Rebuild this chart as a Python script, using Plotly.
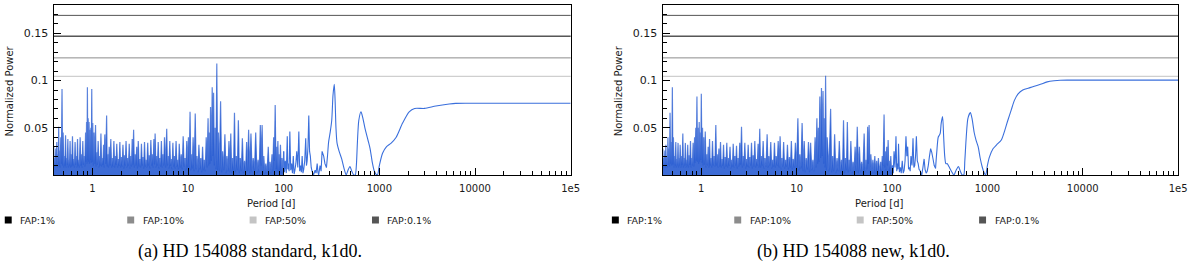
import plotly.graph_objects as go

W, H = 1200, 264

# ---------------- data ----------------
fap_labels = ["FAP:1%", "FAP:10%", "FAP:50%", "FAP:0.1%"]
fap_colors = ["#000000", "#8c8c8c", "#c4c4c4", "#555555"]
fap_levels_std = [0.147, 0.124, 0.1045, 0.169]
fap_levels_new = [0.147, 0.124, 0.1045, 0.169]

x_tick_vals = [1, 10, 100, 1000, 10000, 100000]
x_tick_text = ["1", "10", "100", "1000", "10000", "1e5"]
y_tick_vals = [0.05, 0.1, 0.15]
y_tick_text = ["0.05", "0.1", "0.15"]
captions = ["(a) HD 154088 standard, k1d0.", "(b) HD 154088 new, k1d0."]
x_title = "Period [d]"
y_title = "Normalized Power"

# standard reduction, dense short-period forest (period [d], normalized power)
std_dense = [
    (0.390, 0.020), (0.395, 0.030), (0.400, 0.008), (0.405, 0.018), (0.410, 0.009),
    (0.415, 0.028), (0.420, 0.010), (0.425, 0.035), (0.430, 0.008), (0.435, 0.022),
    (0.440, 0.012), (0.445, 0.051), (0.450, 0.009), (0.455, 0.026), (0.461, 0.008),
    (0.468, 0.040), (0.475, 0.012), (0.482, 0.091), (0.488, 0.010), (0.495, 0.045),
    (0.502, 0.008), (0.510, 0.020), (0.517, 0.010), (0.525, 0.042), (0.532, 0.008),
    (0.540, 0.018), (0.547, 0.011), (0.555, 0.038), (0.562, 0.008), (0.570, 0.016),
    (0.577, 0.010), (0.585, 0.036), (0.592, 0.008), (0.600, 0.022), (0.610, 0.009),
    (0.620, 0.041), (0.630, 0.010), (0.640, 0.017), (0.650, 0.008), (0.660, 0.035),
    (0.670, 0.011), (0.680, 0.020), (0.690, 0.008), (0.700, 0.038), (0.710, 0.010),
    (0.720, 0.016), (0.732, 0.008), (0.745, 0.040), (0.757, 0.010), (0.770, 0.022),
    (0.782, 0.008), (0.795, 0.036), (0.807, 0.011), (0.820, 0.020), (0.835, 0.009),
    (0.850, 0.045), (0.860, 0.014), (0.870, 0.056), (0.879, 0.012), (0.888, 0.093),
    (0.896, 0.016), (0.905, 0.060), (0.914, 0.014), (0.924, 0.056), (0.934, 0.012),
    (0.945, 0.048), (0.955, 0.016), (0.965, 0.050), (0.975, 0.013), (0.986, 0.091),
    (0.998, 0.014), (1.010, 0.055), (1.025, 0.010), (1.040, 0.045), (1.060, 0.012),
    (1.080, 0.053), (1.095, 0.009), (1.110, 0.024), (1.130, 0.011), (1.150, 0.036),
    (1.170, 0.008), (1.190, 0.020), (1.210, 0.010), (1.230, 0.044), (1.250, 0.009),
    (1.270, 0.018), (1.290, 0.011), (1.310, 0.032), (1.330, 0.008), (1.350, 0.043),
    (1.380, 0.012), (1.410, 0.063), (1.430, 0.009), (1.450, 0.022), (1.475, 0.008),
    (1.500, 0.030), (1.530, 0.010), (1.560, 0.038), (1.590, 0.008), (1.620, 0.018),
    (1.650, 0.009), (1.680, 0.036), (1.710, 0.008), (1.740, 0.020), (1.770, 0.011),
    (1.800, 0.033), (1.835, 0.008), (1.870, 0.017), (1.905, 0.010), (1.940, 0.035),
    (1.975, 0.008), (2.010, 0.019), (2.050, 0.009), (2.090, 0.032), (2.130, 0.007),
    (2.170, 0.021), (2.210, 0.010), (2.250, 0.036), (2.295, 0.008), (2.340, 0.018),
    (2.385, 0.010), (2.430, 0.033), (2.475, 0.007), (2.520, 0.020), (2.565, 0.009),
    (2.610, 0.038), (2.655, 0.011), (2.700, 0.048), (2.750, 0.008), (2.800, 0.022),
    (2.855, 0.010), (2.910, 0.030), (2.965, 0.007), (3.020, 0.036), (3.080, 0.009),
    (3.140, 0.017), (3.200, 0.008), (3.260, 0.033), (3.320, 0.010), (3.380, 0.019),
    (3.445, 0.007), (3.510, 0.035), (3.580, 0.009), (3.650, 0.016), (3.720, 0.008),
    (3.790, 0.034), (3.865, 0.010), (3.940, 0.021), (4.015, 0.007), (4.090, 0.037),
    (4.170, 0.010), (4.250, 0.022), (4.325, 0.008), (4.400, 0.038), (4.465, 0.011),
    (4.530, 0.044), (4.615, 0.008), (4.700, 0.020), (4.790, 0.010), (4.880, 0.035),
    (4.975, 0.007), (5.070, 0.018), (5.170, 0.009), (5.270, 0.036), (5.370, 0.008),
    (5.470, 0.022), (5.575, 0.010), (5.680, 0.040), (5.830, 0.008), (5.990, 0.049),
    (6.090, 0.010), (6.200, 0.020), (6.320, 0.007), (6.450, 0.036), (6.570, 0.010),
    (6.700, 0.017), (6.820, 0.006), (6.950, 0.034), (7.070, 0.009), (7.200, 0.020),
    (7.350, 0.007), (7.500, 0.036), (7.650, 0.009), (7.800, 0.016), (7.950, 0.006),
    (8.100, 0.033), (8.300, 0.008), (8.500, 0.022), (8.700, 0.006), (8.900, 0.041),
    (9.100, 0.009), (9.300, 0.018), (9.500, 0.005), (9.700, 0.036), (9.900, 0.008),
    (10.10, 0.040), (10.30, 0.006), (10.50, 0.067), (10.70, 0.005), (10.90, 0.022),
    (11.10, 0.007), (11.30, 0.040), (11.60, 0.004), (11.90, 0.065), (12.15, 0.006),
    (12.40, 0.020), (12.70, 0.003), (13.00, 0.032), (13.30, 0.006), (13.60, 0.018),
    (13.90, 0.003), (14.20, 0.030), (14.50, 0.005), (14.80, 0.016), (15.15, 0.004),
    (15.50, 0.040), (15.85, 0.008), (16.20, 0.060), (16.45, 0.010), (16.70, 0.045),
    (16.95, 0.012), (17.20, 0.072), (17.55, 0.015), (17.90, 0.093), (18.20, 0.020),
    (18.50, 0.087), (18.85, 0.010), (19.20, 0.050), (19.60, 0.006), (20.00, 0.118),
    (20.40, 0.005), (20.80, 0.045), (21.35, 0.004), (21.90, 0.078), (22.45, 0.003),
    (23.00, 0.025), (23.65, 0.005), (24.30, 0.043), (24.90, 0.002), (25.50, 0.020),
    (26.15, 0.004), (26.80, 0.036), (27.40, 0.003), (28.00, 0.044), (28.60, 0.002),
    (29.20, 0.018), (29.90, 0.004), (30.60, 0.066), (31.30, 0.003), (32.00, 0.020),
    (32.80, 0.005), (33.60, 0.058), (34.40, 0.002), (35.20, 0.018), (36.10, 0.004),
    (37.00, 0.039), (38.00, 0.002), (39.00, 0.015), (40.00, 0.003), (41.00, 0.035),
    (42.00, 0.004), (43.00, 0.048), (44.20, 0.002), (45.50, 0.044), (46.70, 0.003),
    (48.00, 0.018), (49.50, 0.004), (51.00, 0.045), (52.50, 0.002), (54.00, 0.016),
    (55.50, 0.003), (57.00, 0.053), (58.20, 0.010), (59.50, 0.053), (60.70, 0.002),
    (62.00, 0.020), (63.50, 0.001), (65.00, 0.012), (67.00, 0.002), (69.00, 0.030),
    (70.50, 0.001), (72.00, 0.014), (73.70, 0.002), (75.50, 0.022), (77.00, 0.004),
    (78.50, 0.040), (80.00, 0.015), (81.50, 0.074), (83.00, 0.006), (84.50, 0.030),
    (85.70, 0.004), (87.00, 0.036), (88.50, 0.003), (90.00, 0.022), (91.20, 0.005),
    (92.50, 0.032), (94.20, 0.002), (96.00, 0.018), (98.00, 0.001), (100.0, 0.025),
]

# standard reduction, sparse peaks between 100 and 280 d
std_mid = [
    (100.0, 0.025), (102.0, 0.003), (104.0, 0.015), (106.5, 0.002), (109.0, 0.041),
    (110.5, 0.006), (112.0, 0.012), (114.0, 0.004), (116.0, 0.046), (118.5, 0.005),
    (121.0, 0.012), (123.5, 0.002), (126.0, 0.020), (128.5, 0.001), (131.0, 0.005),
    (134.0, 0.012), (137.0, 0.025), (140.5, 0.008), (144.0, 0.046), (147.0, 0.004),
    (150.0, 0.010), (153.0, 0.003), (156.0, 0.020), (159.0, 0.002), (162.0, 0.006),
    (166.0, 0.015), (170.0, 0.039), (173.0, 0.010), (176.0, 0.015), (179.5, 0.030),
    (183.0, 0.063), (186.5, 0.025), (190.0, 0.020), (194.0, 0.008), (198.0, 0.004),
    (205.0, 0.000), (213.0, 0.005), (218.0, 0.002), (224.0, 0.012), (228.0, 0.003),
    (232.0, 0.000), (240.0, 0.010), (246.0, 0.004), (252.0, 0.025), (262.0, 0.020),
    (270.0, 0.012), (280.0, 0.008),
]

# standard reduction, long periods
std_long = [
    (280.0, 0.008), (287.0, 0.020), (295.0, 0.035), (307.0, 0.046), (318.0, 0.058),
    (328.0, 0.085), (338.0, 0.096), (345.0, 0.078), (352.0, 0.050), (361.0, 0.034),
    (380.0, 0.025), (404.0, 0.017), (430.0, 0.006), (450.0, 0.000), (470.0, 0.005),
    (493.0, 0.009), (515.0, 0.004), (540.0, 0.000), (560.0, 0.000), (575.0, 0.010),
    (590.0, 0.035), (610.0, 0.058), (643.0, 0.067), (670.0, 0.061), (706.0, 0.050),
    (765.0, 0.036), (800.0, 0.028), (845.0, 0.013), (880.0, 0.005), (920.0, 0.001),
    (955.0, 0.000), (1000.0, 0.010), (1080.0, 0.023), (1190.0, 0.030), (1320.0, 0.0335),
    (1500.0, 0.040), (1750.0, 0.055), (2050.0, 0.0669), (2340.0, 0.0705), (2960.0, 0.0705),
    (3900.0, 0.0730), (5370.0, 0.0751), (6280.0, 0.0758), (10000.0, 0.0759), (30000.0, 0.0759),
    (100000.0, 0.0759),
]

# new reduction, dense short-period forest
new_dense = [
    (0.390, 0.018), (0.395, 0.028), (0.400, 0.008), (0.405, 0.018), (0.410, 0.010),
    (0.415, 0.026), (0.420, 0.008), (0.425, 0.032), (0.430, 0.010), (0.435, 0.020),
    (0.441, 0.008), (0.447, 0.040), (0.452, 0.011), (0.458, 0.028), (0.464, 0.009),
    (0.470, 0.066), (0.476, 0.012), (0.483, 0.035), (0.490, 0.010), (0.497, 0.093),
    (0.503, 0.011), (0.510, 0.040), (0.517, 0.008), (0.525, 0.020), (0.532, 0.010),
    (0.540, 0.035), (0.547, 0.008), (0.555, 0.017), (0.562, 0.010), (0.570, 0.034),
    (0.577, 0.008), (0.585, 0.018), (0.592, 0.010), (0.600, 0.032), (0.610, 0.008),
    (0.620, 0.020), (0.630, 0.011), (0.640, 0.044), (0.650, 0.008), (0.660, 0.018),
    (0.670, 0.010), (0.680, 0.034), (0.690, 0.008), (0.700, 0.016), (0.710, 0.010),
    (0.720, 0.032), (0.732, 0.008), (0.745, 0.021), (0.757, 0.011), (0.770, 0.036),
    (0.782, 0.008), (0.795, 0.018), (0.807, 0.010), (0.820, 0.034), (0.835, 0.009),
    (0.850, 0.040), (0.862, 0.013), (0.875, 0.050), (0.887, 0.015), (0.900, 0.083),
    (0.912, 0.014), (0.925, 0.050), (0.937, 0.012), (0.950, 0.056), (0.962, 0.014),
    (0.975, 0.045), (0.987, 0.016), (1.000, 0.086), (1.015, 0.013), (1.030, 0.050),
    (1.045, 0.010), (1.060, 0.040), (1.080, 0.011), (1.100, 0.046), (1.120, 0.008),
    (1.140, 0.022), (1.160, 0.010), (1.180, 0.030), (1.200, 0.008), (1.220, 0.038),
    (1.240, 0.010), (1.260, 0.018), (1.285, 0.008), (1.310, 0.036), (1.335, 0.010),
    (1.360, 0.020), (1.390, 0.009), (1.420, 0.053), (1.445, 0.010), (1.470, 0.022),
    (1.500, 0.008), (1.530, 0.028), (1.560, 0.009), (1.590, 0.035), (1.620, 0.008),
    (1.650, 0.017), (1.680, 0.010), (1.710, 0.032), (1.745, 0.007), (1.780, 0.019),
    (1.815, 0.009), (1.850, 0.034), (1.885, 0.008), (1.920, 0.018), (1.960, 0.010),
    (2.000, 0.030), (2.040, 0.007), (2.080, 0.016), (2.120, 0.009), (2.160, 0.033),
    (2.205, 0.008), (2.250, 0.020), (2.295, 0.010), (2.340, 0.031), (2.385, 0.007),
    (2.430, 0.018), (2.480, 0.009), (2.530, 0.034), (2.585, 0.011), (2.640, 0.051),
    (2.695, 0.008), (2.750, 0.020), (2.805, 0.010), (2.860, 0.034), (2.920, 0.007),
    (2.980, 0.017), (3.040, 0.009), (3.100, 0.032), (3.165, 0.008), (3.230, 0.019),
    (3.295, 0.010), (3.360, 0.034), (3.430, 0.007), (3.500, 0.021), (3.570, 0.009),
    (3.640, 0.036), (3.715, 0.008), (3.790, 0.017), (3.865, 0.010), (3.940, 0.033),
    (4.020, 0.008), (4.100, 0.049), (4.185, 0.008), (4.270, 0.020), (4.360, 0.010),
    (4.450, 0.036), (4.550, 0.007), (4.650, 0.018), (4.775, 0.009), (4.900, 0.043),
    (5.000, 0.008), (5.100, 0.020), (5.225, 0.010), (5.350, 0.035), (5.475, 0.007),
    (5.600, 0.016), (5.725, 0.009), (5.850, 0.034), (5.975, 0.008), (6.100, 0.020),
    (6.250, 0.010), (6.400, 0.036), (6.550, 0.008), (6.700, 0.041), (6.850, 0.006),
    (7.000, 0.018), (7.150, 0.009), (7.300, 0.035), (7.475, 0.007), (7.650, 0.016),
    (7.825, 0.009), (8.000, 0.032), (8.200, 0.006), (8.400, 0.019), (8.600, 0.008),
    (8.800, 0.036), (9.000, 0.006), (9.200, 0.017), (9.450, 0.008), (9.700, 0.034),
    (10.00, 0.006), (10.30, 0.060), (10.55, 0.005), (10.80, 0.022), (11.10, 0.007),
    (11.40, 0.055), (11.70, 0.004), (12.00, 0.036), (12.30, 0.003), (12.60, 0.018),
    (12.95, 0.006), (13.30, 0.035), (13.65, 0.003), (14.00, 0.034), (14.40, 0.005),
    (14.80, 0.016), (15.20, 0.004), (15.60, 0.040), (15.95, 0.008), (16.30, 0.060),
    (16.60, 0.012), (16.90, 0.050), (17.20, 0.014), (17.50, 0.083), (17.85, 0.018),
    (18.20, 0.092), (18.55, 0.020), (18.90, 0.089), (19.20, 0.012), (19.50, 0.060),
    (19.80, 0.008), (20.10, 0.105), (20.50, 0.005), (20.90, 0.040), (21.80, 0.004),
    (22.70, 0.070), (23.25, 0.003), (23.80, 0.020), (24.40, 0.004), (25.00, 0.043),
    (25.75, 0.002), (26.50, 0.018), (27.25, 0.004), (28.00, 0.036), (28.75, 0.003),
    (29.50, 0.016), (30.25, 0.004), (31.00, 0.058), (31.75, 0.002), (32.50, 0.018),
    (33.25, 0.005), (34.00, 0.056), (34.75, 0.003), (35.50, 0.016), (36.25, 0.004),
    (37.00, 0.036), (38.00, 0.002), (39.00, 0.014), (40.00, 0.003), (41.00, 0.030),
    (42.10, 0.004), (43.20, 0.051), (44.30, 0.002), (45.50, 0.030), (46.70, 0.003),
    (48.00, 0.014), (49.50, 0.002), (51.00, 0.044), (52.20, 0.003), (53.50, 0.016),
    (54.50, 0.006), (55.50, 0.051), (56.50, 0.012), (57.50, 0.053), (58.70, 0.002),
    (60.00, 0.022), (61.50, 0.001), (63.00, 0.016), (64.50, 0.002), (66.00, 0.020),
    (67.50, 0.001), (69.00, 0.015), (70.50, 0.002), (72.00, 0.018), (74.00, 0.001),
    (76.00, 0.014), (77.50, 0.003), (79.00, 0.020), (80.70, 0.010), (82.50, 0.064),
    (83.70, 0.008), (85.00, 0.025), (86.50, 0.005), (88.00, 0.030), (89.50, 0.010),
    (91.00, 0.037), (92.50, 0.004), (94.00, 0.015), (95.50, 0.002), (97.00, 0.020),
    (99.00, 0.001), (101.0, 0.010),
]

# new reduction, sparse peaks between 100 and 286 d
new_mid = [
    (101.0, 0.010), (103.0, 0.002), (105.0, 0.025), (107.5, 0.008), (110.0, 0.041),
    (112.0, 0.004), (114.0, 0.012), (115.5, 0.006), (117.0, 0.033), (119.5, 0.003),
    (122.0, 0.008), (125.0, 0.002), (128.0, 0.015), (131.0, 0.002), (134.0, 0.005),
    (137.0, 0.015), (140.0, 0.041), (143.0, 0.020), (146.0, 0.030), (149.0, 0.006),
    (152.0, 0.008), (155.0, 0.004), (158.0, 0.020), (162.0, 0.010), (166.0, 0.039),
    (169.5, 0.008), (173.0, 0.010), (176.5, 0.020), (180.0, 0.041), (184.0, 0.015),
    (188.0, 0.012), (192.0, 0.006), (196.0, 0.005), (205.0, 0.000), (211.0, 0.008),
    (217.0, 0.017), (222.0, 0.006), (228.0, 0.002), (234.0, 0.004), (240.0, 0.010),
    (247.0, 0.020), (254.0, 0.028), (261.0, 0.024), (268.0, 0.018), (277.0, 0.010),
    (286.0, 0.007),
]

# new reduction, long periods
new_long = [
    (286.0, 0.007), (295.0, 0.025), (305.0, 0.040), (313.0, 0.042), (320.0, 0.044),
    (328.0, 0.055), (339.0, 0.062), (348.0, 0.040), (357.0, 0.020), (367.0, 0.012),
    (380.0, 0.012), (395.0, 0.009), (420.0, 0.004), (445.0, 0.000), (470.0, 0.005),
    (497.0, 0.009), (520.0, 0.004), (545.0, 0.000), (565.0, 0.000), (580.0, 0.015),
    (600.0, 0.040), (625.0, 0.060), (663.0, 0.066), (690.0, 0.060), (727.0, 0.045),
    (760.0, 0.037), (800.0, 0.030), (840.0, 0.018), (880.0, 0.009), (920.0, 0.003),
    (960.0, 0.000), (1000.0, 0.010), (1050.0, 0.019), (1150.0, 0.028), (1250.0, 0.032),
    (1400.0, 0.037), (1520.0, 0.047), (1640.0, 0.058), (1780.0, 0.069), (1920.0, 0.079),
    (2100.0, 0.086), (2350.0, 0.090), (2800.0, 0.0925), (3100.0, 0.094), (3600.0, 0.096),
    (4240.0, 0.0986), (5000.0, 0.0998), (5800.0, 0.1004), (7000.0, 0.1005), (10000.0, 0.1005),
    (100000.0, 0.1005),
]

# ---------------- figure ----------------
panels = [
    dict(dense=std_dense, mid=std_mid, long=std_long, faps=fap_levels_std,
         xdom=[54 / W, 575 / W], ytitle_x=9.5, xtitle_x=274, legend_x=[8.3, 131.7, 255.0, 378.3],
         caption_x=252),
    dict(dense=new_dense, mid=new_mid, long=new_long, faps=fap_levels_new,
         xdom=[667.7 / W, 1187 / W], ytitle_x=623, xtitle_x=886, legend_x=[620.0, 743.3, 866.7, 990.0],
         caption_x=860),
]

ydom = [1 - 175 / H, 1 - 5 / H]
x_minor = [m * 10 ** e for e in range(-1, 5) for m in range(2, 10)]
y_minor = [k / 100 for k in range(1, 18) if k not in (5, 10, 15)]

txt_col = "#1a1a1a"
tick_font = dict(family="DejaVu Sans", size=10, color=txt_col)
ytick_font = dict(family="DejaVu Sans", size=11, color=txt_col)
dense_line = "rgba(40, 92, 210, 0.75)"
dense_fill = "rgba(40, 92, 210, 0.9)"
thin_line = "#3a6fdc"

fig = go.Figure()
shapes = []
annotations = []

for i, p in enumerate(panels):
    xa = "x" if i == 0 else "x2"
    ya = "y" if i == 0 else "y2"
    fig.add_trace(go.Scatter(
        x=[a for a, _ in p["dense"]], y=[b for _, b in p["dense"]],
        mode="lines", line=dict(color=dense_line, width=1.2, simplify=False),
        fill="tozeroy", fillcolor=dense_fill,
        xaxis=xa, yaxis=ya, showlegend=False, hoverinfo="skip"))
    fig.add_trace(go.Scatter(
        x=[a for a, _ in p["mid"]], y=[b for _, b in p["mid"]],
        mode="lines", line=dict(color=thin_line, width=1.1, simplify=False),
        xaxis=xa, yaxis=ya, showlegend=False, hoverinfo="skip"))
    fig.add_trace(go.Scatter(
        x=[a for a, _ in p["long"]], y=[b for _, b in p["long"]],
        mode="lines", line=dict(color=thin_line, width=1.1, shape="spline", smoothing=0.7),
        xaxis=xa, yaxis=ya, showlegend=False, hoverinfo="skip"))

    for lvl, col in zip(p["faps"], fap_colors):
        shapes.append(dict(type="line", xref=xa + " domain", yref=ya,
                           x0=0, x1=1, y0=lvl, y1=lvl,
                           line=dict(color=col, width=1), layer="below"))

    # legend
    for cx, lab, col in zip(p["legend_x"], fap_labels, fap_colors):
        shapes.append(dict(type="rect", xref="paper", yref="paper",
                           x0=(cx - 3.5) / W, x1=(cx + 3.5) / W,
                           y0=1 - 223.5 / H, y1=1 - 216.5 / H,
                           fillcolor=col, line=dict(width=0)))
        annotations.append(dict(text=lab, xref="paper", yref="paper",
                                x=(cx + 10) / W, y=1 - 220 / H,
                                xanchor="left", yanchor="middle", showarrow=False,
                                font=dict(family="DejaVu Sans", size=9.5, color=txt_col)))
    # axis titles
    annotations.append(dict(text=x_title, xref="paper", yref="paper",
                            x=p["xtitle_x"] / W, y=1 - 203 / H, xanchor="center", yanchor="middle",
                            showarrow=False, font=dict(family="DejaVu Sans", size=10, color=txt_col)))
    annotations.append(dict(text=y_title, xref="paper", yref="paper", textangle=-90,
                            x=p["ytitle_x"] / W, y=1 - 91 / H, xanchor="center", yanchor="middle",
                            showarrow=False, font=dict(family="DejaVu Sans", size=10, color=txt_col)))
    # caption
    annotations.append(dict(text=captions[i], xref="paper", yref="paper",
                            x=p["caption_x"] / W, y=1 - 251 / H, xanchor="center", yanchor="middle",
                            showarrow=False, font=dict(family="Liberation Serif", size=18, color="#000000")))

    xaxis = dict(domain=p["xdom"], anchor=ya, type="log", range=[-0.405, 5],
                 tickmode="array", tickvals=x_tick_vals, ticktext=x_tick_text,
                 ticks="inside", ticklen=7, tickwidth=1, tickcolor="#000",
                 minor=dict(tickmode="array", tickvals=x_minor, ticks="inside", ticklen=4,
                            tickwidth=1, tickcolor="#000", showgrid=False),
                 showline=True, linecolor="#000", linewidth=1.3, mirror=True,
                 showgrid=False, zeroline=False, tickfont=tick_font, ticklabelstandoff=4)
    yaxis = dict(domain=ydom, anchor=xa, range=[0, 0.18],
                 tickmode="array", tickvals=y_tick_vals, ticktext=y_tick_text,
                 ticks="inside", ticklen=7, tickwidth=1, tickcolor="#000",
                 minor=dict(tickmode="array", tickvals=y_minor, ticks="inside", ticklen=4,
                            tickwidth=1, tickcolor="#000", showgrid=False),
                 showline=True, linecolor="#000", linewidth=1.3, mirror=True,
                 showgrid=False, zeroline=False, tickfont=ytick_font, ticklabelstandoff=2)
    if i == 0:
        fig.update_layout(xaxis=xaxis, yaxis=yaxis)
    else:
        fig.update_layout(xaxis2=xaxis, yaxis2=yaxis)

fig.update_layout(
    width=W, height=H, autosize=False,
    margin=dict(l=0, r=0, t=0, b=0),
    paper_bgcolor="white", plot_bgcolor="white",
    shapes=shapes, annotations=annotations, showlegend=False,
)

# remove the browser's default 8px page margin so the figure sits at the window origin
fig.write_html(
    "out.html",
    config={"displayModeBar": False},
    post_script="document.body.style.margin='0px';document.body.style.overflow='hidden';",
)
